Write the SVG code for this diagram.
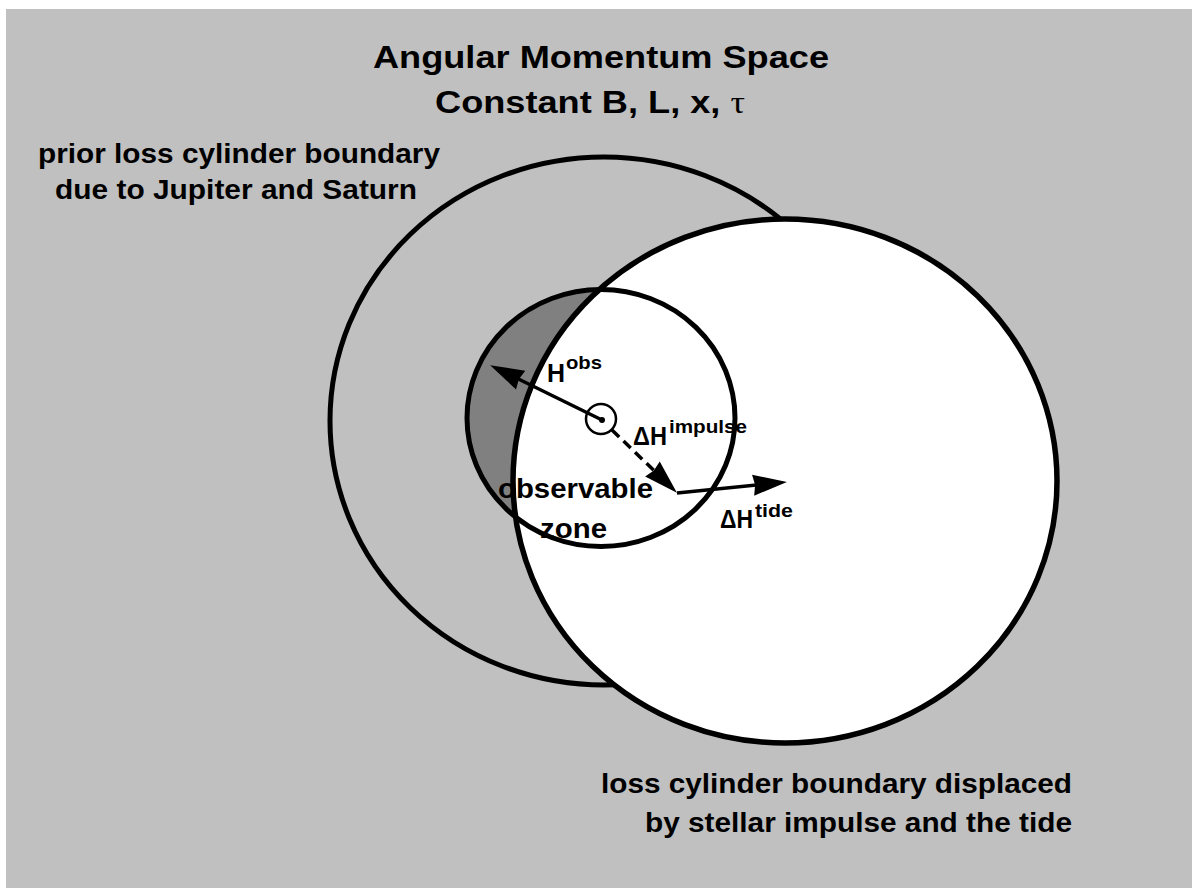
<svg xmlns="http://www.w3.org/2000/svg" width="1192" height="888" viewBox="0 0 1192 888">
<style>
  .t { font-family: "Liberation Sans", Arial, sans-serif; font-weight: bold; fill: #000; }
  .ring { fill: none; stroke: #000; stroke-width: 5; }
  .arrow { stroke: #000; stroke-width: 3.5; fill: none; }
</style>
<defs>
  <marker id="head" markerUnits="userSpaceOnUse" markerWidth="36" markerHeight="24" viewBox="0 0 36 24" refX="24" refY="12" orient="auto">
    <path d="M1,1.5 L35,12 L1,22.5 L3,12 z" fill="#000"/>
  </marker>
</defs>
<rect x="0" y="0" width="1192" height="888" fill="#ffffff"/>
<rect x="6" y="9" width="1186" height="879" fill="#c0c0c0"/>

<g id="title">
  <text class="t" x="373" y="68" font-size="32" textLength="456" lengthAdjust="spacingAndGlyphs">Angular Momentum Space</text>
  <text class="t" x="435" y="113" font-size="32" textLength="310" lengthAdjust="spacingAndGlyphs">Constant B, L, x, <tspan font-family="Liberation Serif, serif" font-weight="normal">τ</tspan></text>
</g>

<g id="prior-boundary">
  <ellipse class="ring" cx="604" cy="421" rx="274" ry="264"/>
  <text class="t" x="38" y="163" font-size="27" textLength="402" lengthAdjust="spacingAndGlyphs">prior loss cylinder boundary</text>
  <text class="t" x="55" y="199" font-size="27" textLength="362" lengthAdjust="spacingAndGlyphs">due to Jupiter and Saturn</text>
</g>

<g id="observable-zone-fill">
  <ellipse cx="601" cy="418" rx="134" ry="128.5" fill="#808080"/>
</g>

<g id="displaced-boundary">
  <ellipse cx="785" cy="481" rx="272" ry="262" fill="#ffffff" stroke="#000" stroke-width="5.5"/>
  <text class="t" x="1072" y="793" font-size="27" text-anchor="end" textLength="471" lengthAdjust="spacingAndGlyphs">loss cylinder boundary displaced</text>
  <text class="t" x="1072" y="832" font-size="27" text-anchor="end" textLength="427" lengthAdjust="spacingAndGlyphs">by stellar impulse and the tide</text>
</g>

<g id="observable-zone">
  <ellipse class="ring" cx="601" cy="418" rx="134" ry="128.5"/>
  <text class="t" x="498" y="498" font-size="27" textLength="155" lengthAdjust="spacingAndGlyphs">observable</text>
  <text class="t" x="540" y="538" font-size="27" textLength="67" lengthAdjust="spacingAndGlyphs">zone</text>
</g>

<g id="sun">
  <circle cx="601" cy="419" r="15" fill="none" stroke="#000" stroke-width="2.5"/>
  <circle cx="602" cy="420" r="3" fill="#000"/>
</g>

<g id="connectors">
  <line class="arrow" x1="602" y1="420" x2="500" y2="370" marker-end="url(#head)"/>
  <line class="arrow" x1="612" y1="430" x2="669" y2="485" stroke-dasharray="10 6" marker-end="url(#head)"/>
  <line class="arrow" x1="677" y1="493" x2="776" y2="483" marker-end="url(#head)"/>
</g>

<g id="labels">
  <text class="t" x="547" y="382" font-size="26" textLength="18" lengthAdjust="spacingAndGlyphs">H</text>
  <text class="t" x="566" y="369" font-size="19" textLength="36" lengthAdjust="spacingAndGlyphs">obs</text>
  <text class="t" x="633" y="445" font-size="25" textLength="34" lengthAdjust="spacingAndGlyphs">ΔH</text>
  <text class="t" x="669" y="433" font-size="19" textLength="78" lengthAdjust="spacingAndGlyphs">impulse</text>
  <text class="t" x="720" y="528" font-size="25" textLength="33" lengthAdjust="spacingAndGlyphs">ΔH</text>
  <text class="t" x="755" y="517" font-size="19" textLength="38" lengthAdjust="spacingAndGlyphs">tide</text>
</g>
</svg>
